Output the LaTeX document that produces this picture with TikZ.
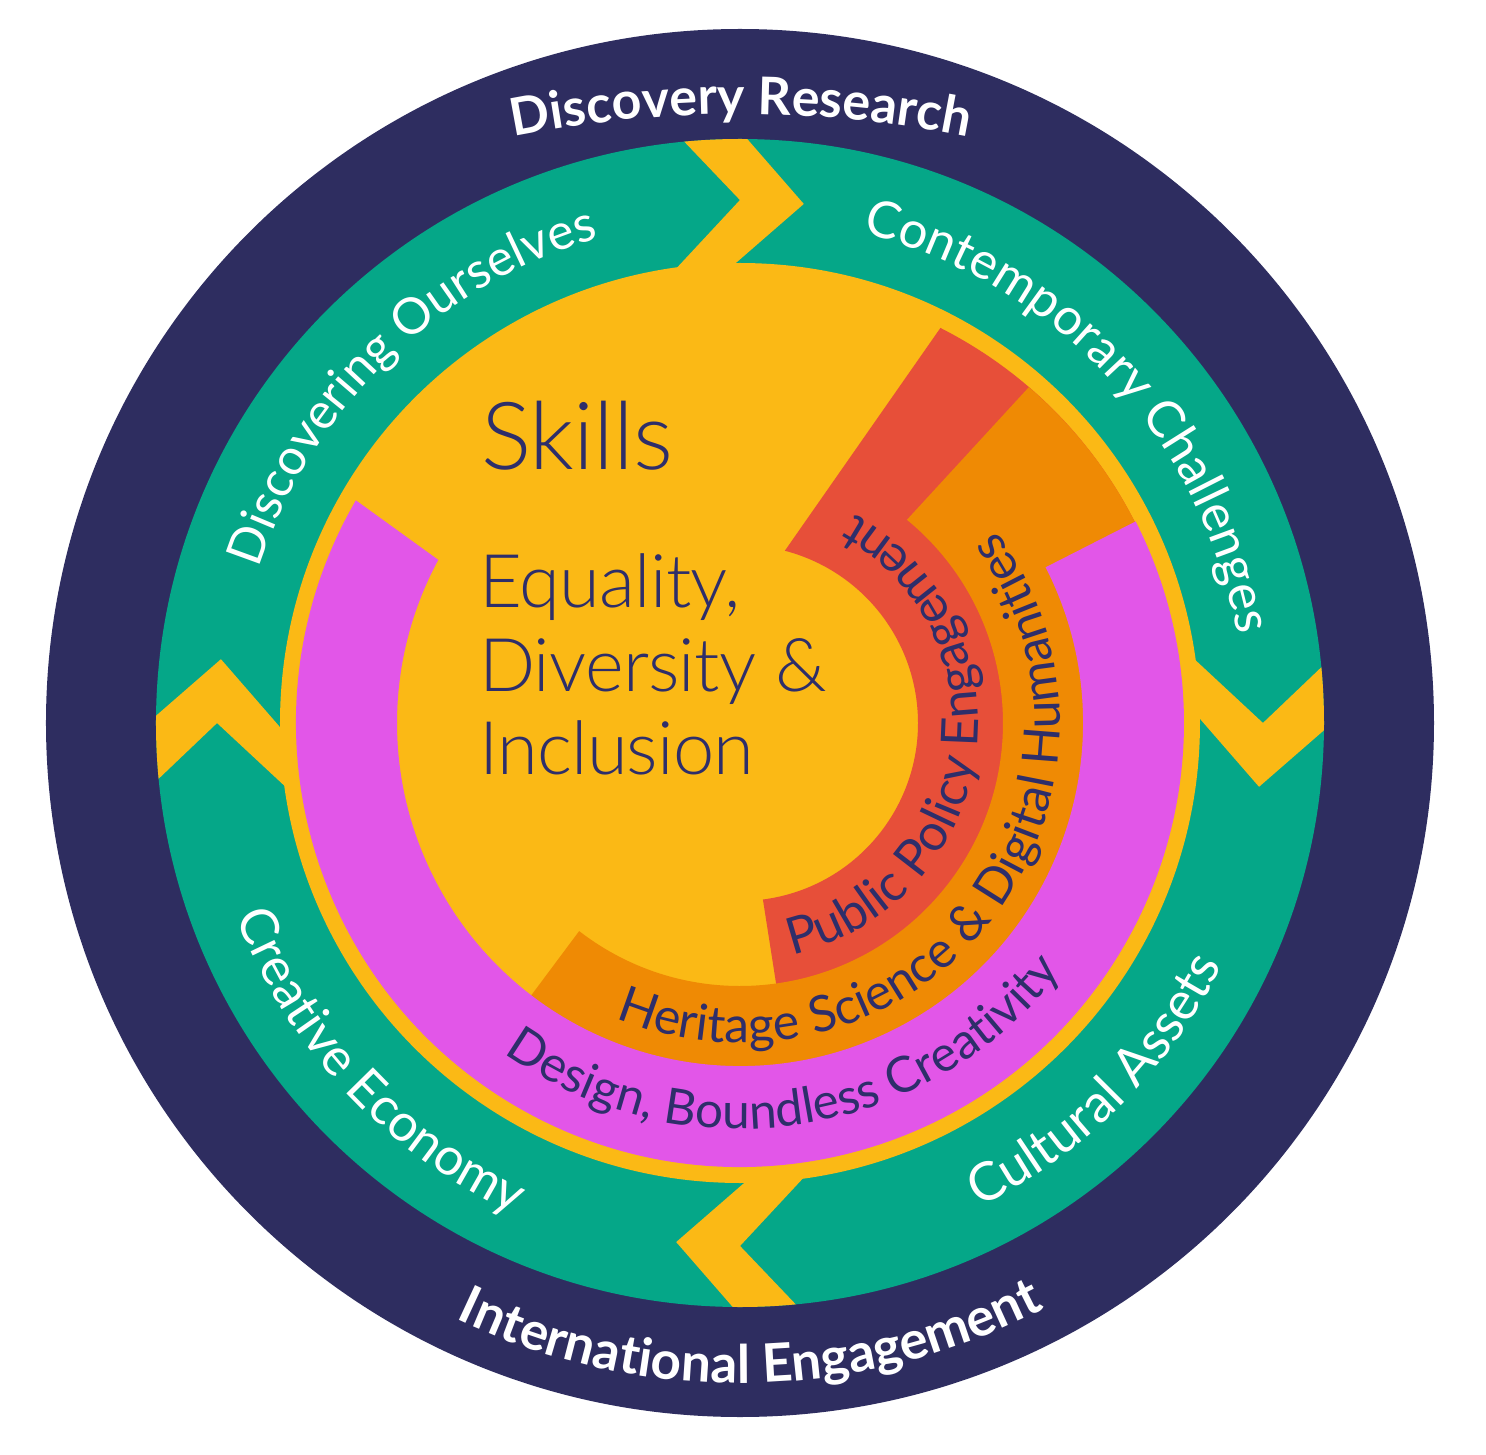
\documentclass[tikz,border=0pt]{standalone}
\usepackage{fontspec}
\setmainfont{Lato}
\newfontfamily\lightfont{Lato Light}[LetterSpace=-1]
\usetikzlibrary{decorations.text,calc}
\definecolor{cNavy}{HTML}{2E2D60}
\definecolor{cGreen}{HTML}{05A788}
\definecolor{cYellow}{HTML}{FBB915}
\definecolor{cMag}{HTML}{E256E8}
\definecolor{cOrange}{HTML}{EF8A04}
\definecolor{cRed}{HTML}{E74F39}
\definecolor{cText}{HTML}{2E2E6A}
\tikzset{
  bigtext/.style={anchor=base west, inner sep=0pt, text=cText, font=\lightfont\fontsize{74}{74}\selectfont},
}
\begin{document}
\begin{tikzpicture}
\useasboundingbox[fill=white] (-740pt,-731pt) rectangle (746pt,723pt);
% rings
\fill[cNavy] (0,0) circle[radius=694pt];
\fill[cGreen] (0,0) circle[radius=584pt];
\begin{scope}
\clip (0,0) circle[radius=584pt];
\foreach \a in {86.5,-3.5,176.5,266.5}{
  \fill[cYellow, shift={(\a:522pt)}, rotate=\a-90]
    (-129pt,90pt) -- (-32pt,0pt) -- (-97.8pt,-80pt) -- (-49.4pt,-80pt) -- (32pt,0pt) -- (-56.6pt,90pt) -- cycle;
}
\end{scope}
\fill[cYellow] (0,0) circle[radius=460pt];
% inner bands
\fill[cRed] (277.4:178pt) arc[start angle=277.4, end angle=435.4, radius=178pt]
  -- (423.1:443pt) arc[start angle=423.1, end angle=278.3, radius=443pt] -- cycle;
\fill[cOrange] (232.3:263pt) arc[start angle=232.3, end angle=410.6, radius=263pt]
  -- (409.3:443pt) arc[start angle=409.3, end angle=232.7, radius=443pt] -- cycle;
\fill[cMag] (149.9:444pt) arc[start angle=149.9, end angle=387, radius=444pt]
  -- (387:343pt) arc[start angle=387, end angle=151.6, radius=343pt] -- cycle;
% centre text
\node[bigtext, font=\lightfont\fontsize{94}{94}\selectfont] (skills) at (-259pt,253pt) {Skills};
\node[bigtext] (equality) at (-261pt,115pt) {Equality,};
\node[bigtext] (diversity) at (-261pt,32pt) {Diversity \&};
\node[bigtext] (inclusion) at (-261pt,-51pt) {Inclusion};
% navy ring texts
\coordinate (drc) at (1pt,-541pt);
\path[decorate, decoration={text along path, text align=center, text color=white,
  text={|\bfseries\fontsize{52}{52}\selectfont|Discovery Research}}]
  ($(drc)+(115:1150pt)$) arc[start angle=115, end angle=65, radius=1150pt];
\path[decorate, decoration={text along path, text align=center, text color=white,
  text={|\bfseries\fontsize{53}{53}\selectfont|International Engagement}}]
  (191:660pt) arc[start angle=191, end angle=351, radius=660pt];
% green ring texts
\path[decorate, decoration={text along path, text align=center, text color=white,
  text={|\fontsize{50}{50}\selectfont|Discovering Ourselves}}]
  (219.2:505pt) arc[start angle=219.2, end angle=49.2, radius=505pt];
\path[decorate, decoration={text along path, text align=center, text color=white,
  text={|\fontsize{51}{51}\selectfont|Contemporary Challenges}}]
  (128:505pt) arc[start angle=128, end angle=-42, radius=505pt];
\path[decorate, decoration={text along path, text align=center, text color=white,
  text={|\fontsize{52}{52}\selectfont|Creative Economy}}]
  (143.2:540pt) arc[start angle=143.2, end angle=303.2, radius=540pt];
\path[decorate, decoration={text along path, text align=center, text color=white,
  text={|\fontsize{53}{53}\selectfont|Cultural Assets}}]
  (234.8:540pt) arc[start angle=234.8, end angle=394.8, radius=540pt];
% inner band texts
\path[decorate, decoration={text along path, text align=center, text color=cText,
  text={|\fontsize{51}{51}\selectfont|Public Policy Engagement}}]
  (262:238pt) arc[start angle=262, end angle=442, radius=238pt];
\path[decorate, decoration={text along path, text align=center, text color=cText,
  text={|\fontsize{50}{50}\selectfont|Heritage Science {\&} Digital Humanities}}]
  (222:320pt) arc[start angle=222, end angle=422, radius=320pt];
\path[decorate, decoration={text along path, text align=center, text color=cText,
  text={|\fontsize{49.5}{49.5}\selectfont|Design, Boundless Creativity}}]
  (188.4:406pt) arc[start angle=188.4, end angle=368.4, radius=406pt];
\end{tikzpicture}
\end{document}
